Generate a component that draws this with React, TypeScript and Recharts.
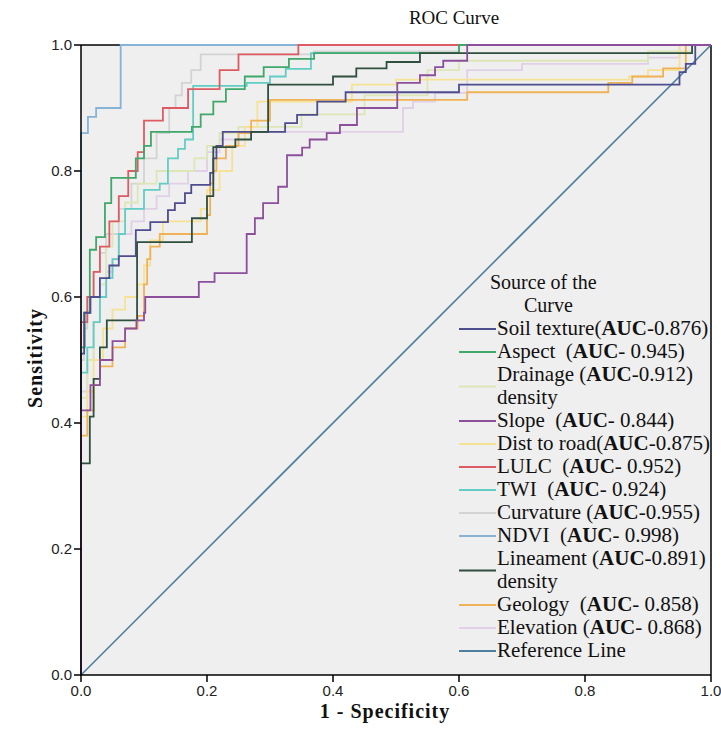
import { LineChart, Line, XAxis, YAxis, CartesianGrid, ReferenceLine } from 'recharts'

// ROC curves, points are [1 - specificity, sensitivity] where the step rises
const soilTexture = [[0, 0], [0, 0.51], [0.005, 0.575], [0.015, 0.6], [0.03, 0.63], [0.045, 0.65], [0.06, 0.665], [0.087, 0.706], [0.11, 0.719], [0.138, 0.738], [0.149, 0.749], [0.165, 0.765], [0.175, 0.778], [0.205, 0.797], [0.21, 0.82], [0.215, 0.84], [0.225, 0.862], [0.324, 0.876], [0.343, 0.889], [0.375, 0.91], [0.42, 0.925], [0.6, 0.937], [0.95, 0.957], [0.96, 0.97], [0.975, 1], [1, 1]]
const aspect = [[0, 0], [0, 0.52], [0.006, 0.575], [0.014, 0.675], [0.024, 0.695], [0.038, 0.749], [0.048, 0.789], [0.087, 0.82], [0.1, 0.84], [0.111, 0.862], [0.176, 0.87], [0.19, 0.89], [0.21, 0.91], [0.23, 0.93], [0.26, 0.95], [0.29, 0.965], [0.33, 0.978], [0.37, 0.987], [0.6, 1], [1, 1]]
const drainageDensity = [[0, 0], [0, 0.44], [0.01, 0.5], [0.02, 0.56], [0.03, 0.62], [0.04, 0.68], [0.05, 0.72], [0.07, 0.75], [0.09, 0.78], [0.12, 0.8], [0.18, 0.82], [0.2, 0.84], [0.22, 0.86], [0.25, 0.87], [0.35, 0.89], [0.45, 0.92], [0.55, 0.96], [0.6, 0.975], [0.9, 0.99], [0.97, 1], [1, 1]]
const slope = [[0, 0], [0, 0.42], [0.015, 0.46], [0.03, 0.5], [0.05, 0.53], [0.07, 0.55], [0.088, 0.563], [0.1, 0.575], [0.102, 0.6], [0.187, 0.624], [0.212, 0.638], [0.263, 0.7], [0.276, 0.725], [0.289, 0.749], [0.313, 0.775], [0.327, 0.825], [0.351, 0.837], [0.363, 0.85], [0.39, 0.86], [0.411, 0.873], [0.438, 0.9], [0.502, 0.94], [0.538, 0.952], [0.562, 0.965], [0.575, 0.975], [0.613, 1], [1, 1]]
const distToRoad = [[0, 0], [0, 0.41], [0.01, 0.45], [0.02, 0.5], [0.035, 0.55], [0.05, 0.58], [0.07, 0.6], [0.09, 0.62], [0.1, 0.65], [0.11, 0.69], [0.13, 0.72], [0.19, 0.74], [0.2, 0.77], [0.22, 0.8], [0.24, 0.84], [0.26, 0.87], [0.28, 0.91], [0.43, 0.937], [0.5, 0.945], [0.87, 0.95], [0.9, 0.96], [0.95, 1], [1, 1]]
const lulc = [[0, 0], [0, 0.56], [0.01, 0.6], [0.02, 0.64], [0.03, 0.68], [0.045, 0.72], [0.06, 0.76], [0.075, 0.8], [0.09, 0.83], [0.1, 0.88], [0.13, 0.9], [0.17, 0.93], [0.22, 0.96], [0.25, 0.985], [0.345, 1], [1, 1]]
const twi = [[0, 0], [0, 0.48], [0.01, 0.52], [0.02, 0.56], [0.03, 0.6], [0.04, 0.63], [0.05, 0.66], [0.06, 0.7], [0.07, 0.74], [0.1, 0.77], [0.125, 0.78], [0.138, 0.82], [0.154, 0.835], [0.165, 0.85], [0.178, 0.935], [0.263, 0.94], [0.3, 0.95], [0.325, 0.962], [0.365, 0.987], [0.6, 1], [1, 1]]
const curvature = [[0, 0], [0, 0.5], [0.005, 0.55], [0.01, 0.6], [0.02, 0.64], [0.03, 0.67], [0.04, 0.7], [0.06, 0.74], [0.08, 0.78], [0.1, 0.82], [0.12, 0.86], [0.14, 0.9], [0.15, 0.92], [0.16, 0.94], [0.175, 0.96], [0.19, 0.985], [0.37, 0.99], [0.6, 1], [1, 1]]
const ndvi = [[0, 0], [0, 0.86], [0.011, 0.886], [0.024, 0.9], [0.063, 1], [1, 1]]
const lineamentDensity = [[0, 0], [0, 0.336], [0.014, 0.41], [0.02, 0.47], [0.03, 0.52], [0.041, 0.563], [0.089, 0.687], [0.176, 0.725], [0.2, 0.76], [0.21, 0.838], [0.245, 0.85], [0.27, 0.862], [0.297, 0.937], [0.4, 0.95], [0.437, 0.963], [0.485, 0.973], [0.538, 0.987], [0.97, 1], [1, 1]]
const geology = [[0, 0], [0, 0.38], [0.01, 0.42], [0.02, 0.46], [0.03, 0.49], [0.05, 0.52], [0.07, 0.55], [0.09, 0.57], [0.1, 0.62], [0.105, 0.66], [0.11, 0.68], [0.125, 0.7], [0.2, 0.73], [0.205, 0.78], [0.21, 0.8], [0.215, 0.82], [0.23, 0.84], [0.25, 0.86], [0.27, 0.88], [0.3, 0.913], [0.613, 0.925], [0.837, 0.94], [0.875, 0.95], [0.924, 0.963], [0.96, 1], [1, 1]]
const elevation = [[0, 0], [0, 0.45], [0.01, 0.5], [0.02, 0.56], [0.03, 0.6], [0.04, 0.64], [0.05, 0.66], [0.06, 0.7], [0.08, 0.72], [0.1, 0.74], [0.12, 0.76], [0.14, 0.78], [0.17, 0.8], [0.2, 0.83], [0.22, 0.85], [0.25, 0.862], [0.511, 0.9], [0.527, 0.91], [0.562, 0.924], [0.613, 0.96], [0.7, 0.97], [0.9, 0.98], [0.95, 1], [1, 1]]
const referenceLine = [[0, 0], [1, 1]]

const ticks = [0, 0.2, 0.4, 0.6, 0.8, 1.0]

// legend: name, AUC text, second line
const series = [
  { key: 'soil', name: 'Soil texture', auc: '-0.876)', extra: '', color: '#4d4d8f', pts: soilTexture },
  { key: 'aspect', name: 'Aspect  ', auc: '- 0.945)', extra: '', color: '#3fa86a', pts: aspect },
  { key: 'drain', name: 'Drainage ', auc: '-0.912)', extra: 'density', color: '#dde6b5', pts: drainageDensity },
  { key: 'slope', name: 'Slope  ', auc: '- 0.844)', extra: '', color: '#8c4f9c', pts: slope },
  { key: 'road', name: 'Dist to road', auc: '-0.875)', extra: '', color: '#f5e295', pts: distToRoad },
  { key: 'lulc', name: 'LULC  ', auc: '- 0.952)', extra: '', color: '#dd5b62', pts: lulc },
  { key: 'twi', name: 'TWI  ', auc: '- 0.924)', extra: '', color: '#62cdc4', pts: twi },
  { key: 'curv', name: 'Curvature ', auc: '-0.955)', extra: '', color: '#d3d3d6', pts: curvature },
  { key: 'ndvi', name: 'NDVI  ', auc: '- 0.998)', extra: '', color: '#86b3d6', pts: ndvi },
  { key: 'lin', name: 'Lineament ', auc: '-0.891)', extra: 'density', color: '#2f4f3f', pts: lineamentDensity },
  { key: 'geo', name: 'Geology  ', auc: '- 0.858)', extra: '', color: '#f0b256', pts: geology },
  { key: 'elev', name: 'Elevation ', auc: '- 0.868)', extra: '', color: '#e0cfe6', pts: elevation },
]

// drawing order (pale first, dark on top)
const drawOrder = ['curv', 'elev', 'drain', 'road', 'geo', 'twi', 'ndvi', 'lulc', 'aspect', 'soil', 'lin', 'slope']

const toXY = (pts: number[][]) => pts.map(([x, y]) => ({ x, y }))

const serifFont = '"Liberation Serif", "DejaVu Serif", serif'
const tickFont = '"Liberation Sans Narrow", "Liberation Sans", Arial, sans-serif'

export default function App() {
  const rowH = 23
  const firstRow = 329
  let row = 0
  const legendRows = series.map((s) => {
    const y = firstRow + row * rowH
    row += s.extra ? 2 : 1
    return { ...s, y }
  })
  const refY = firstRow + row * rowH

  return (
    <div style={{ position: 'absolute', left: 0, top: 0, width: 721, height: 738, background: '#fff' }}>
      <LineChart width={721} height={738} margin={{ top: 45, right: 10, left: 0, bottom: 0 }}>
        <CartesianGrid fill="#efefef" horizontal={false} vertical={false} />
        <XAxis
          type="number"
          dataKey="x"
          domain={[0, 1]}
          ticks={ticks}
          tickFormatter={(v: number) => v.toFixed(1)}
          height={63}
          tickSize={7}
          tickMargin={3}
          stroke="#000"
          axisLine={{ stroke: '#000', strokeWidth: 1.5 }}
          tickLine={{ stroke: '#000', strokeWidth: 1.5 }}
          tick={{ fill: '#222', fontSize: 15, fontFamily: tickFont }}
          allowDuplicatedCategory={false}
        />
        <YAxis
          type="number"
          dataKey="y"
          domain={[0, 1]}
          ticks={ticks}
          tickFormatter={(v: number) => v.toFixed(1)}
          width={81}
          tickSize={7}
          tickMargin={2}
          axisLine={{ stroke: '#000', strokeWidth: 1.5 }}
          tickLine={{ stroke: '#000', strokeWidth: 1.5 }}
          tick={{ fill: '#222', fontSize: 15, fontFamily: tickFont }}
        />
        <ReferenceLine y={1} stroke="#000" strokeWidth={1.5} />
        <ReferenceLine x={1} stroke="#000" strokeWidth={1.5} />
        <Line
          data={toXY(referenceLine)}
          dataKey="y"
          type="linear"
          stroke="#4f7f9f"
          strokeWidth={1.6}
          dot={false}
          isAnimationActive={false}
        />
        {drawOrder.map((k) => {
          const s = series.find((d) => d.key === k)!
          return (
            <Line
              key={k}
              data={toXY(s.pts)}
              dataKey="y"
              name={s.name}
              type="stepAfter"
              stroke={s.color}
              strokeWidth={1.8}
              dot={false}
              isAnimationActive={false}
            />
          )
        })}
      </LineChart>

      {/* title, axis titles and legend */}
      <svg width={721} height={738} style={{ position: 'absolute', left: 0, top: 0, pointerEvents: 'none' }}>
        <text x={454} y={24} textAnchor="middle" fontFamily={serifFont} fontSize={19} fill="#111">ROC Curve</text>
        <text
          x={0}
          y={0}
          transform="translate(42 358) rotate(-90)"
          textAnchor="middle"
          fontFamily={serifFont}
          fontSize={20}
          fontWeight="bold"
          letterSpacing={1}
          fill="#111"
        >
          Sensitivity
        </text>
        <text x={385} y={718} textAnchor="middle" fontFamily={serifFont} fontSize={20} fontWeight="bold" letterSpacing={1} fill="#111">
          1 - Specificity
        </text>

        <text x={490} y={289} fontFamily={serifFont} fontSize={20} fill="#111">Source of the</text>
        <text x={524} y={312} fontFamily={serifFont} fontSize={20} fill="#111">Curve</text>
        {legendRows.map((r) => {
          const lineY = r.extra ? r.y + rowH / 2 : r.y
          return (
            <g key={r.key}>
              <line x1={459} x2={496} y1={lineY} y2={lineY} stroke={r.color} strokeWidth={2} />
              <text x={497} y={r.y + 6} fontFamily={serifFont} fontSize={21} fill="#111" style={{ whiteSpace: 'pre' }}>
                {r.name}(<tspan fontWeight="bold">AUC</tspan>{r.auc}
              </text>
              {r.extra ? (
                <text x={497} y={r.y + rowH + 6} fontFamily={serifFont} fontSize={21} fill="#111">{r.extra}</text>
              ) : null}
            </g>
          )
        })}
        <line x1={459} x2={496} y1={refY} y2={refY} stroke="#4f7f9f" strokeWidth={2} />
        <text x={497} y={refY + 6} fontFamily={serifFont} fontSize={21} fill="#111">Reference Line</text>
      </svg>
    </div>
  )
}
